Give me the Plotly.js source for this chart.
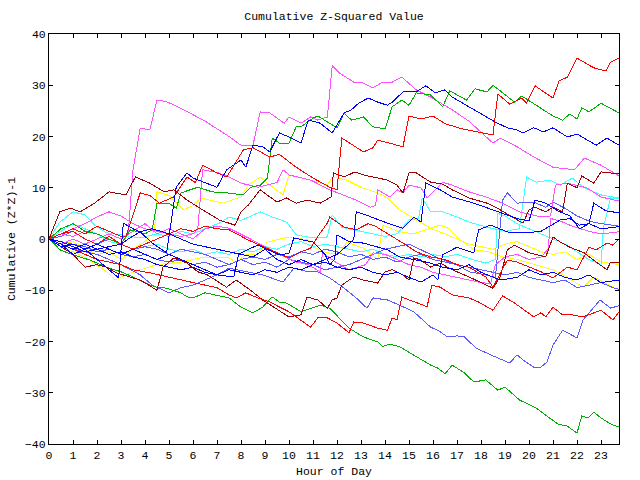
<!DOCTYPE html>
<html>
<head>
<meta charset="utf-8">
<script src="https://cdn.plot.ly/plotly-3.0.1.min.js"></script>
<style>
html,body{margin:0;padding:0;background:#fff;}
#chart{width:640px;height:480px;}
#chart .scatterlayer path.js-line{shape-rendering:crispEdges;}
#chart .xaxislayer-above text, #chart .yaxislayer-above text, #chart .g-gtitle text, #chart .g-xtitle text, #chart .g-ytitle text{font-weight:normal;}
</style>
</head>
<body>
<div id="chart"></div>
<script>
// Each series: [hour, cumulative value]
const hourTicks = [0,1,2,3,4,5,6,7,8,9,10,11,12,13,14,15,16,17,18,19,20,21,22,23];

const redTop = [[0,0],[0.5,1],[1,2],[1.5,1],[2,2.5],[2.5,1.5],[3,0.5],[3.2,0.4],[3.8,9],[4.2,8.5],[4.6,7],[5.2,8.2],[5.75,12.1],[6.1,11],[6.4,14.4],[7,12.9],[7.4,12.1],[7.54,13.1],[8.1,17.4],[8.5,17.8],[9.2,16],[9.6,16.5],[10.3,14],[11,11.9],[11.7,10.1],[12,9.6],[12.2,19.7],[13.1,17],[13.5,17.8],[13.7,19.3],[14.5,18.3],[14.75,18],[15,24],[15.5,23.4],[16,24],[16.5,22.5],[17.2,21.5],[17.8,21],[18.5,20.3],[18.7,28.3],[19.2,26.3],[19.7,27.5],[19.9,26.5],[20.25,29.9],[21,27.5],[21.25,30.8],[21.6,31.6],[22,35.3],[22.7,33.4],[23.2,32.8],[23.4,34.5],[23.75,35.3]];

const greenTop = [[0,0],[0.5,2],[1,3],[1.5,1.5],[2,1],[2.5,0],[3,-1],[3.4,1.8],[4,1],[4.3,1.8],[4.5,7],[5,7],[5.3,6],[5.5,9],[6.2,10.1],[6.8,9.2],[7.4,9],[8.1,8.6],[8.4,10.1],[8.8,10.5],[9.1,11.9],[9.3,19.7],[9.6,18.7],[10,18.7],[10.3,21.9],[10.5,21.9],[11,23.6],[11.2,24],[12,21.7],[12.3,24.6],[12.6,23.2],[13.1,23.8],[13.5,21.9],[14,21.5],[14.3,25.8],[14.7,27.1],[15,26.1],[15.3,28.5],[15.9,28.1],[16.4,25.8],[16.7,28.9],[17.4,27.1],[17.75,29.3],[18.25,28.7],[18.5,30],[19.4,26.7],[19.7,27.9],[20.1,26.7],[21,24],[21.4,23.2],[21.7,24.4],[22,23.4],[22.2,25.6],[22.5,24.8],[23,26.5],[23.75,24.6]];

const blueTop = [[0,0],[0.5,-1],[1,-2],[1.5,-1],[2,-2],[2.5,-1.5],[3,-1],[3.3,0],[3.8,1.4],[4.3,-0.8],[4.9,-2.7],[5.3,10.1],[5.75,12.9],[6,11.9],[6.5,11],[7,10.1],[7.4,13.5],[8,15.4],[8.2,14],[8.5,18.3],[8.9,18],[9.2,17],[9.6,20.7],[10,19.9],[10.5,18.7],[10.8,23.2],[11.3,22.6],[11.8,20.7],[12.3,24.6],[12.6,25.2],[12.9,26.5],[13.3,27.5],[13.7,26.7],[14.1,26.1],[14.3,26.7],[14.75,28.7],[15.3,28.7],[15.7,29.9],[16.1,28.5],[16.5,29.1],[16.8,27.7],[17.5,25.8],[18.25,23.8],[18.6,22.8],[19.1,21.7],[19.5,21.3],[19.75,20.7],[20.2,21.7],[20.6,20.9],[21,21.7],[21.6,19.9],[22,20.5],[22.8,18.3],[23.25,19.7],[23.75,18.3]];

const magentaTop = [[0,0],[0.5,1],[1,0.5],[1.5,1.5],[2,1],[2.5,0],[3,-1],[3.3,1],[3.5,13.5],[3.8,21.6],[4.2,21.3],[4.5,27.1],[4.9,26.8],[5.5,25.5],[6.5,23],[7.5,20],[8,18.3],[8.5,18.3],[8.8,24.8],[9.2,24.6],[9.8,22.6],[10,23.8],[10.5,22.6],[10.9,23.8],[11.2,23.2],[11.6,23.8],[11.8,33.8],[12.1,32.4],[12.7,30.6],[13,30.6],[13.5,29.5],[13.9,30.6],[14.3,30.6],[14.7,31.6],[15.3,29.1],[15.9,27.7],[16.8,25.2],[17.5,23],[18.5,18.7],[18.8,19.7],[19.5,18],[20.2,16],[21,14],[21.9,13.5],[22.3,15.8],[23,14.4],[23.75,12.3]];

const darkRedUpper = [[0,0],[0.2,2.3],[0.45,5.3],[0.9,6],[1.3,5.3],[1.9,7],[2.5,9.2],[3.2,8.6],[3.6,12.1],[4.2,10.9],[4.8,9.2],[5.2,9.6],[5.75,7.6],[6.4,5.7],[7.1,3.7],[7.75,2.7],[8,5.3],[8.3,6.6],[8.8,9.6],[9.5,7.2],[9.9,8],[10.3,7],[10.75,7.6],[11.3,7],[11.75,8.2],[11.85,12.9],[12.3,12.1],[12.75,13.1],[13.1,12.5],[13.7,11.9],[14.1,11.5],[14.5,10.5],[14.75,9],[15,12.9],[15.3,12.9],[15.9,11.1],[16.4,10.7],[16.8,9.6],[17.5,8],[18.25,7],[18.8,5.7],[19.3,4.3],[19.75,3.1],[20,5.7],[20.25,6.2],[20.7,5.3],[21,6.2],[21.4,5.3],[21.6,10.9],[22,10],[22.2,12.3],[22.7,10.9],[23,13.1],[23.75,12.7]];

const darkRedLower = [[0,0],[0.5,-1.5],[1,-3],[1.5,-5.5],[2,-5],[2.4,-5.5],[2.8,-6.6],[3.8,-8],[4.5,-10],[4.75,-5.5],[5.2,-3.7],[5.75,-4.7],[6.2,-6.4],[6.6,-7],[7.1,-8.4],[7.4,-9.4],[7.8,-8],[8.4,-10],[8.9,-11.9],[10,-15.2],[10.5,-14.8],[10.75,-11.3],[11.2,-11.9],[11.6,-13.5],[11.8,-11.9],[12,-11.5],[12.2,-9],[12.7,-7.4],[13.1,-8],[13.7,-8.6],[14,-6.4],[14.3,-6],[14.75,-7],[15,-8],[15.2,-3.7],[15.5,-4.1],[15.9,-5.5],[16.3,-4.7],[16.8,-6],[17.5,-7.4],[18.5,-9.6],[18.8,-7.4],[19.1,-2.1],[19.4,-1.2],[20,-2.7],[20.7,-3.5],[21,0.4],[21.3,-0.6],[21.7,-1.6],[22.3,-2.7],[22.8,-4.5],[23.25,-6],[23.4,-4.5],[23.75,-4.5]];

const greenBottom = [[0,0],[0.2,-0.8],[0.45,-2.1],[1,-3.1],[1.7,-4.1],[2.4,-5.5],[3,-6.4],[3.5,-7.4],[4.2,-9],[4.5,-9.4],[4.9,-9.6],[5.5,-10.5],[5.75,-11.3],[6,-11.5],[6.5,-10.5],[7,-11],[7.5,-11.5],[8,-13.3],[8.5,-14.4],[8.9,-13.3],[9.3,-11.3],[9.6,-12.3],[9.9,-12.5],[10.5,-14.2],[10.9,-13.5],[11.3,-12.9],[11.7,-13.5],[12.1,-15.4],[12.5,-17.4],[13.1,-19.1],[13.7,-20.1],[13.9,-21],[14.2,-20.5],[14.6,-21],[15.2,-22.6],[15.9,-24.6],[16.2,-25.2],[16.5,-26.3],[16.8,-24.6],[17.3,-26.1],[17.7,-27.9],[18.2,-27.5],[18.7,-29.5],[19,-28.9],[19.6,-31.4],[20.3,-33],[21.2,-36.1],[21.6,-36.5],[22,-37.9],[22.2,-34.5],[22.45,-34.9],[22.7,-33.8],[23,-34.9],[23.4,-36.1],[23.75,-36.7]];

const slateDip = [[0,0],[0.5,-1],[1,-2],[1.5,-2.5],[2,-3],[2.5,-4],[3,-5],[3.8,-7],[4.3,-9],[5,-10.5],[5.5,-9.5],[6,-9],[6.5,-8],[7,-7],[7.5,-5.7],[8.2,-6.4],[8.9,-7],[9.75,-8.4],[10.2,-5.7],[10.8,-6.4],[11.2,-6.4],[11.7,-7.6],[12.3,-9.6],[12.8,-11.5],[13.25,-13.5],[13.5,-11.5],[14.1,-11.9],[14.6,-12.9],[15.2,-14.2],[15.9,-17.2],[16.2,-17.8],[16.6,-19.1],[17,-18.9],[17.3,-19.1],[17.8,-21.3],[18.4,-22.6],[19.2,-24.2],[19.5,-22.6],[19.75,-23.6],[20.2,-25],[20.5,-25],[20.75,-24],[21,-20.7],[21.4,-17.8],[22,-19.3],[22.25,-15.8],[22.96,-11.9],[23.4,-13.5],[23.75,-13]];

const redBottom = [[0,0],[0.5,-1],[1,-2],[1.3,-2.7],[2,-4],[3,-5],[3.5,-6],[4.2,-6.6],[5,-7.5],[6,-8.5],[7,-9.5],[7.5,-10.9],[7.8,-11.5],[8.2,-10.5],[8.7,-11.5],[9.2,-12.3],[10,-14.2],[10.9,-17.2],[11.2,-15.4],[11.6,-15.4],[12,-16.4],[12.5,-18.3],[12.7,-16.2],[13.1,-16.4],[13.7,-17.4],[14.1,-17.8],[14.3,-15.4],[14.5,-15.8],[14.7,-11.3],[15,-11.9],[15.6,-12.9],[15.75,-13.3],[15.95,-9],[16.3,-9.4],[16.8,-10.9],[17.3,-11.3],[17.5,-11.5],[17.9,-12.3],[18.5,-13.9],[18.9,-11.1],[19.4,-12.5],[20.2,-15.2],[20.5,-14.4],[20.7,-15.2],[21,-13.3],[21.4,-14.8],[21.8,-14.8],[22.25,-15.2],[23,-13.9],[23.5,-15.8],[23.75,-14.2]];

const magentaMid = [[0,0],[0.5,1],[1,2],[1.5,3],[2,4.3],[2.5,5.3],[3,4.5],[3.5,3],[4,2],[5,1],[5.5,0.5],[6,1],[6.2,2],[6.4,13.5],[7,13],[7.5,12.1],[8,10.9],[8.7,10.1],[9.5,11],[9.75,13.5],[10,12.5],[10.9,11.5],[11.3,10.5],[11.7,9.6],[12.8,7.6],[13.4,6.2],[13.6,6.5],[13.7,9.6],[14.2,8.2],[14.5,9.6],[14.75,9],[15,10.5],[15.5,10],[15.75,8],[16.4,11.1],[16.8,10.5],[17.5,9.2],[18.2,8.2],[18.9,7],[19.6,5.3],[20.5,4.3],[20.9,4.5],[21.1,10.5],[21.6,10.9],[22.4,10],[23,8.2],[23.75,7.4]];

const cyanUpper = [[0,0],[0.45,3.3],[1,5.3],[1.5,4.7],[1.9,2.7],[2.4,1.2],[3,0.8],[3.8,0.2],[4.5,1],[5,0.5],[5.5,1.5],[6,1],[6.5,2],[7.1,3.1],[7.5,4.3],[8,3.6],[8.8,5.3],[9.3,4.3],[9.9,3.3],[10.3,0.8],[11,0.2],[11.6,0.4],[11.8,4.7],[12.2,2.3],[13,1.5],[14,0.5],[14.5,1],[15,3.7],[15.4,4],[15.55,8],[15.9,5.3],[16.4,5.3],[17,4.3],[17.5,3.3],[18.25,2.3],[19,1.5],[19.6,2],[19.9,12.1],[20.3,11.1],[20.9,11.5],[21.3,10.5],[21.8,11.9],[22.25,10.1],[23,8.6],[23.75,8]];

const yellowUpper = [[0,0],[0.5,-1],[1,-0.5],[1.5,-2],[2,-3],[2.5,-2.5],[3,-4],[3.5,-2],[4,-0.5],[4.4,1.5],[4.5,9.2],[5,8.5],[5.6,5.7],[6,6.5],[6.3,8],[6.8,7.5],[7.25,7],[8,8.2],[8.3,10.5],[8.8,12.1],[9.1,10.9],[9.75,8.6],[10,12.5],[10.3,12.1],[10.9,11.5],[11.3,10.9],[11.6,10.5],[11.8,12.1],[12.4,11.5],[13,10.1],[13.7,9],[14.1,8],[14.6,5.7],[15.1,4.3],[15.9,2.1],[16.3,2.7],[16.6,2.2],[17,0.4],[17.7,-2.1],[18.3,-2.5],[18.9,-3.5],[19.5,-4],[20.2,-5],[21,-6],[21.6,-7.5],[22.25,-9.4],[22.7,-7.4],[23.1,-8.4],[23.75,-10]];

const yellowLower = [[0,0],[0.5,-1.5],[1,-2.5],[1.7,-4.1],[2.4,-6.4],[2.75,-8],[3.2,-7],[3.8,-6],[4.5,-5],[5.5,-4.5],[6.5,-3.5],[7.5,-3.7],[7.8,-4.5],[8.2,-3.1],[8.7,-3],[9.1,-0.6],[10,0.4],[10.8,-0.2],[11,-1.6],[11.6,-2.7],[12.1,-2.9],[12.4,-0.6],[13.1,-1.8],[13.7,-4.1],[13.9,2.7],[14.6,1.4],[15.2,1],[15.9,2.1],[16.5,1],[17,0],[17.5,-1],[18,-1.5],[18.5,-2],[19,-1],[19.5,-0.5],[20,-1.5],[20.5,-2.5],[21,-3],[21.5,-2.5],[22,-4],[22.5,-3],[23,-4.5],[23.75,-5]];

const blueJump = [[0,0],[0.5,-1],[1,-3],[1.5,-2],[2,-4],[2.5,-6],[2.9,-7.6],[3.1,3.1],[3.5,2],[3.8,1.4],[4.3,2],[5,1],[5.5,0],[6,-1],[6.5,-1.5],[7,-2],[7.5,-2.5],[8,-3],[8.5,-3.5],[9,-2],[9.5,-4],[10,-5],[10.5,-4],[11,-5],[11.5,-4],[12,-3],[12.5,-1],[12.7,0],[12.8,5.3],[13.2,4.7],[14.1,3.1],[14.75,2.1],[15.2,4.3],[15.5,3.3],[15.7,10.9],[16.3,9.6],[16.8,8.2],[17.7,7],[18.3,6],[18.9,5],[19.5,4],[20,3.5],[20.25,7.6],[20.7,7],[21.2,5.5],[21.7,4.5],[22.1,2],[22.5,3],[22.7,7],[23.2,5.5],[23.75,5.1]];

const blueMid = [[0,0],[0.5,-1.5],[1,-1],[1.5,-2],[2,-1],[2.5,-2],[3,-3],[3.5,-2],[4,-3],[4.5,-4],[5,-3],[5.5,-4],[6,-5],[6.5,-6],[7,-7],[7.7,-7.4],[7.9,-3],[8.3,-2],[8.7,-1.2],[9.6,-3.1],[10,-2.8],[10.2,0.2],[11,-0.6],[11.5,-3],[11.7,-5],[11.9,-4],[12,0.8],[12.5,-0.5],[13.1,-0.8],[14.1,-2.1],[14.6,-3.5],[15.3,-4.1],[15.9,-4.7],[16.4,-5.5],[17,-6],[17.5,-5],[18,-6.5],[18.8,-8],[19.5,-7.5],[20,-6],[20.5,-7],[21,-6.5],[21.5,-7.5],[22,-8],[22.5,-7],[23,-8.5],[23.75,-8]];

const blueLate = [[0,0],[0.5,-0.5],[1,-1.5],[1.5,-2.5],[2,-2],[2.5,-3],[3,-2.5],[3.5,-3.5],[4,-4],[4.5,-5],[5,-5.5],[5.5,-6],[6,-5.5],[6.5,-6.5],[7,-7],[7.5,-6],[8,-6.5],[8.5,-7],[9,-6],[9.5,-6.5],[10,-5.5],[10.5,-6],[11,-5],[11.5,-4.5],[12,-5.5],[12.5,-6],[13,-5.5],[13.5,-6.5],[14,-7],[14.5,-6.5],[15,-7.5],[15.5,-8.4],[16,-7],[16.2,-8],[16.4,-3.1],[17,-1.6],[17.7,-2.7],[17.9,1.8],[18.4,2.7],[19.2,1.2],[19.9,1.2],[20.5,1.5],[21.3,3.7],[21.7,4],[22.1,2.7],[22.5,3],[23,2],[23.75,2.4]];

const redMid = [[0,0],[0.5,1],[1,1.5],[1.5,0],[2,-1],[2.5,0.5],[3,-1],[3.5,-2],[4,-1],[4.5,0],[5,1],[5.5,2],[6,1.5],[6.5,2.5],[7,2],[7.5,1.8],[8.3,-0.2],[9.2,-2.1],[10,-3.7],[10.5,-2.5],[10.9,-1.8],[11.3,1.2],[11.6,3.1],[11.7,4.3],[12.3,2.3],[12.8,1.8],[13.3,3],[13.6,2.5],[14.2,0.8],[14.75,-0.8],[15.3,-2.5],[15.9,-3.5],[16.5,-4],[17,-5],[17.5,-5.5],[18.2,-7.4],[18.5,-9.4],[19.1,-4.1],[19.5,-4.5],[20,-5.5],[20.5,-6.4],[21,-7.6],[21.6,-5.5],[22,-6],[22.5,-1.6],[22.8,-2.1],[23.25,-0.8],[23.5,-1.2],[23.75,0]];

const magentaLow = [[0,0],[0.5,-1],[1,0],[1.5,-1],[2,0],[2.5,1],[3,0],[3.5,1.5],[4,3],[4.5,1],[5,2],[5.5,1],[6,0],[6.5,2],[7,2.5],[7.5,2.1],[8.2,0.5],[8.9,-1.2],[9.6,-3],[10.3,-4.5],[10.8,-5],[11.3,-6.4],[11.4,-2.7],[12,-4.7],[12.5,-6],[13.2,-5],[13.5,-2.7],[14,-3],[14.5,-4],[15,-5],[15.5,-5.5],[16,-6.5],[16.5,-7],[17,-7.5],[17.5,-8],[18,-8.5],[18.4,-8.7],[18.6,-5],[19,-3.5],[19.5,-3],[20,-4],[20.5,-3.5],[20.8,-2],[20.9,4],[21.3,3.5],[21.8,2.5],[22.5,1.5],[23,1],[23.75,1.4]];

const cyanLower = [[0,0],[0.5,1.5],[1,3],[1.5,2],[2,1],[2.5,-0.5],[3,-1],[3.5,-2],[4,-1.5],[4.5,-1],[5,-2],[5.5,-2.5],[6,-2],[6.5,-3],[7,-2.5],[7.5,-3],[8,-2],[8.5,-2.5],[9,-1.5],[9.5,-2],[10,-1],[10.5,-0.5],[11,-1.5],[11.5,-1],[12,-1.5],[12.5,-2],[13,-2.5],[13.5,-2],[14,-3],[14.5,-3.5],[15,-3],[15.5,-3.5],[16,-3],[16.5,-3.5],[17,-3],[17.7,-4.1],[18.2,-4.7],[18.6,-4],[18.7,5],[19,4.5],[19.5,3],[20,2],[20.5,1],[21,0],[21.5,-1],[22,-2.5],[22.5,-4],[23,-5],[23.1,2.3],[23.4,8],[23.75,7.8]];

const slateMid = [[0,0],[0.5,0.5],[1,1.5],[1.5,0],[2,-1],[2.5,0],[3,-1],[3.5,-2],[4,-1.5],[4.5,-2],[5,-3],[5.5,-2],[6,-2.5],[6.5,-3],[7,-4],[7.5,-5],[8,-4],[8.5,-5],[9,-4.5],[9.5,-5.5],[10,-4],[10.5,-4.5],[11,-5],[11.5,-6],[12,-5.5],[12.5,-5],[13,-4],[13.5,-3],[14,-2],[14.5,-1.5],[15,-1],[15.5,-2.1],[16.2,-3.7],[17,-5],[17.5,-6.4],[18.2,-7],[18.6,-7.5],[18.9,7.6],[19.1,9],[19.5,7],[20.2,7.2],[20.7,6.2],[21,7.2],[21.5,6],[22,4.5],[22.5,3.5],[23,3],[23.75,2.5]];

const slateLow = [[0,0],[0.5,-0.5],[1,-1],[1.5,-1.5],[2,-2.5],[2.5,-2],[3,-3],[3.5,-3.5],[4,-3],[4.5,-4],[5,-4.5],[5.5,-4],[6,-5],[6.5,-4.5],[7,-5.5],[7.5,-5],[8,-4],[8.5,-3.5],[9,-4],[9.5,-3],[10,-3.5],[10.5,-2.5],[11,-3],[11.5,-2],[12,-2.5],[12.5,-3.5],[13,-3],[13.5,-4],[14,-3.5],[14.5,-4.5],[15,-3.5],[15.5,-3],[16,-4],[16.5,-4.5],[17,-5],[17.5,-5.5],[18,-6],[18.5,-6.5],[19,-7],[19.5,-6.5],[20,-7.5],[20.5,-8],[21,-8.5],[21.5,-8],[22,-9.5],[22.5,-9],[23,-8.5],[23.5,-9.5],[23.75,-9.8]];

const seriesList = [
  {d: yellowLower, c: '#ffff00'},
  {d: yellowUpper, c: '#ffff00'},
  {d: cyanLower, c: '#40ffff'},
  {d: cyanUpper, c: '#40ffff'},
  {d: slateLow, c: '#5a5aff'},
  {d: slateMid, c: '#5a5aff'},
  {d: slateDip, c: '#5a5aff'},
  {d: magentaLow, c: '#ff50ff'},
  {d: magentaMid, c: '#ff50ff'},
  {d: magentaTop, c: '#ff50ff'},
  {d: greenBottom, c: '#00b000'},
  {d: greenTop, c: '#00b000'},
  {d: darkRedLower, c: '#a00000'},
  {d: darkRedUpper, c: '#a00000'},
  {d: redMid, c: '#ff0000'},
  {d: redBottom, c: '#ff0000'},
  {d: redTop, c: '#ff0000'},
  {d: blueLate, c: '#0000ff'},
  {d: blueMid, c: '#0000ff'},
  {d: blueJump, c: '#0000ff'},
  {d: blueTop, c: '#0000ff'}
];

const traces = seriesList.map(s => ({
  type: 'scatter', mode: 'lines',
  x: s.d.map(p => p[0]), y: s.d.map(p => p[1]),
  line: {color: s.c, width: 1},
  hoverinfo: 'skip', showlegend: false
}));

const mono = 'Liberation Mono, DejaVu Sans Mono, monospace';
const layout = {
  width: 640, height: 480,
  margin: {l: 49, r: 21, t: 34, b: 36, pad: 0},
  paper_bgcolor: '#ffffff', plot_bgcolor: '#ffffff',
  showlegend: false,
  title: {text: 'Cumulative Z-Squared Value', font: {family: mono, size: 11.5, color: '#000'},
          x: 0.5, xref: 'paper', y: 1 - 16/480, yref: 'container', yanchor: 'middle'},
  xaxis: {
    range: [0, 23.75], tickmode: 'array', tickvals: hourTicks, ticktext: hourTicks.map(String),
    ticks: 'inside', ticklen: 4, tickcolor: '#000', tickwidth: 1,
    showline: true, mirror: 'allticks', linecolor: '#000', linewidth: 1,
    showgrid: false, zeroline: false,
    tickfont: {family: mono, size: 11.5, color: '#000'},
    title: {text: 'Hour of Day', font: {family: mono, size: 11.5, color: '#000'}, standoff: 6}
  },
  yaxis: {
    range: [-40, 40], tickmode: 'linear', tick0: -40, dtick: 10,
    ticks: 'inside', ticklen: 4, tickcolor: '#000', tickwidth: 1,
    showline: true, mirror: 'allticks', linecolor: '#000', linewidth: 1,
    showgrid: false, zeroline: false,
    tickfont: {family: mono, size: 11.5, color: '#000'},
    title: {text: 'Cumulative (Z*Z)-1', font: {family: mono, size: 11.5, color: '#000'}, standoff: 6}
  }
};

Plotly.newPlot('chart', traces, layout, {staticPlot: true, displayModeBar: false});
</script>
</body>
</html>
